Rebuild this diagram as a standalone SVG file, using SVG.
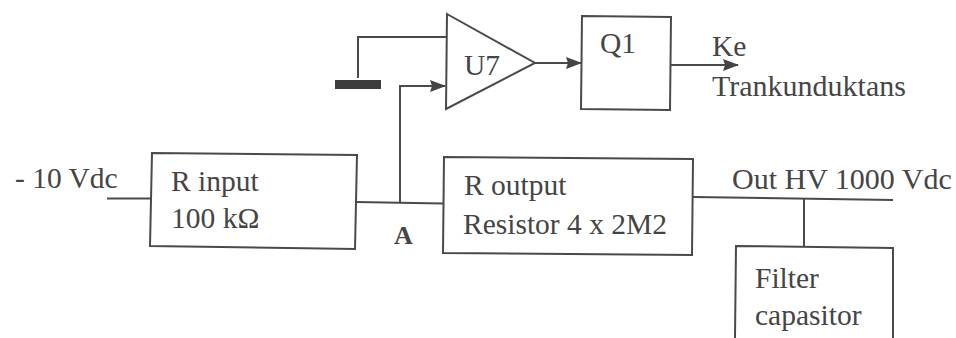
<svg xmlns="http://www.w3.org/2000/svg" width="956" height="338" viewBox="0 0 956 338">
<style>
.l{fill:none;stroke:#4a4a4a;stroke-width:2}
.b{fill:#fff;stroke:#4a4a4a;stroke-width:2}
text{font-family:"Liberation Serif",serif;font-size:29.5px;fill:#454545}
.w{font-size:30px}
</style>
<defs><marker id="a" markerUnits="userSpaceOnUse" markerWidth="18" markerHeight="14" refX="16" refY="7" orient="auto"><path d="M1 1L17 7L1 13L3 7Z" fill="#444"/></marker></defs>
<rect width="956" height="338" fill="#fff"/>
<g id="connectors">
<path class="l" d="M107 198.500L151 198.500"/>
<path class="l" d="M356 202L443 203.500"/>
<path class="l" d="M400 203V86H445" marker-end="url(#a)"/>
<path class="l" d="M358 78V37H446"/>
<path class="l" d="M535 63H581" marker-end="url(#a)"/>
<path class="l" d="M671 65H738" marker-end="url(#a)"/>
<path class="l" d="M693 197L893 200"/>
<path class="l" d="M804 198V247"/>
</g>
<g id="ground"><rect x="335" y="80" width="46" height="9" fill="#3c3c3c"/></g>
<g id="u7"><path class="b" d="M447 14L535 63L446 109Z"/><text x="464" y="75">U7</text></g>
<g id="q1"><path class="b" d="M582 16L671 17L670 110L581 109Z"/><text x="600" y="53">Q1</text></g>
<g id="rinput"><path class="b" d="M152 153L357 155L355 249L150 246Z"/><text x="171" y="191">R input</text><text x="171" y="228">100 kΩ</text></g>
<g id="routput"><path class="b" d="M444 157L693 159L692 255L443 253Z"/><text x="464" y="195">R output</text><text x="463" y="234">Resistor 4 x 2M2</text></g>
<g id="filter"><path class="b" d="M735 338L736 246L893 248V338"/><text x="755" y="288">Filter</text><text x="755" y="325">capasitor</text></g>
<g id="labels">
<text x="15" y="188">- 10 Vdc</text>
<text x="394" y="244" font-weight="bold" style="font-size:26px">A</text>
<text x="712" y="56">Ke</text>
<text class="w" x="712" y="96">Trankunduktans</text>
<text class="w" x="732" y="189">Out HV 1000 Vdc</text>
</g>
</svg>
